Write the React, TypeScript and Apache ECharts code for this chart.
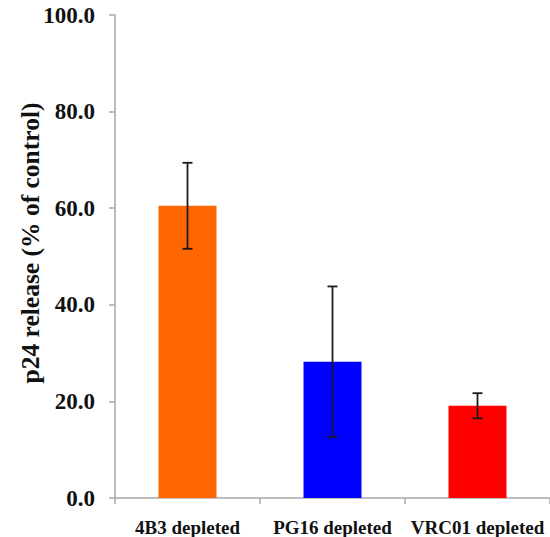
import React, { useEffect, useRef } from "react";
import * as echarts from "echarts";

const categories = ["4B3 depleted", "PG16 depleted", "VRC01 depleted"];
const values = [60.5, 28.2, 19.1];
const errors = [8.9, 15.6, 2.6];
const barColors = ["#ff6600", "#0000ff", "#ff0000"];
const yTicks = { min: 0, max: 100, interval: 20 };
const yTitle = "p24 release (% of control)";

export default function App() {
  const ref = useRef<HTMLDivElement>(null);
  useEffect(() => {
    document.body.style.margin = "0";
    const chart = echarts.init(ref.current!, undefined, { renderer: "svg" });
    const font = "Liberation Serif";
    const axisColor = "#a8a8a8";
    chart.setOption({
      animation: false,
      grid: { left: 115, right: 0, top: 15, bottom: 39 },
      graphic: [
        {
          type: "text",
          x: 30,
          y: 243,
          rotation: Math.PI / 2,
          style: {
            text: yTitle,
            fill: "#111",
            fontFamily: font,
            fontWeight: "bold",
            fontSize: 25.5,
            align: "center",
            verticalAlign: "middle",
          },
        },
      ],
      xAxis: {
        type: "category",
        data: categories,
        axisLine: { lineStyle: { color: axisColor, width: 1.5 } },
        axisTick: { show: true, length: 6, lineStyle: { color: axisColor, width: 1.5 } },
        axisLabel: {
          margin: 20,
          color: "#111",
          fontFamily: font,
          fontWeight: "bold",
          fontSize: 19,
          interval: 0,
        },
      },
      yAxis: {
        type: "value",
        min: yTicks.min,
        max: yTicks.max,
        interval: yTicks.interval,
        axisLine: { show: true, lineStyle: { color: axisColor, width: 1.5 } },
        axisTick: { show: true, length: 6, lineStyle: { color: axisColor, width: 1.5 } },
        splitLine: { show: false },
        axisLabel: {
          margin: 20,
          color: "#111",
          fontFamily: font,
          fontWeight: "bold",
          fontSize: 23,
          formatter: (v: number) => v.toFixed(1),
        },
      },
      series: [
        {
          type: "bar",
          barWidth: 58,
          data: values.map((v, i) => ({ value: v, itemStyle: { color: barColors[i] } })),
        },
        {
          type: "custom",
          data: values.map((v, i) => [i, v - errors[i], v + errors[i]]),
          renderItem: (params: any, api: any) => {
            const x = api.value(0);
            const lo = api.coord([x, api.value(1)]);
            const hi = api.coord([x, api.value(2)]);
            const cap = 5;
            const style = { stroke: "#1a1a1a", lineWidth: 1.8 };
            return {
              type: "group",
              children: [
                { type: "line", shape: { x1: lo[0], y1: lo[1], x2: hi[0], y2: hi[1] }, style },
                { type: "line", shape: { x1: hi[0] - cap, y1: hi[1], x2: hi[0] + cap, y2: hi[1] }, style },
                { type: "line", shape: { x1: lo[0] - cap, y1: lo[1], x2: lo[0] + cap, y2: lo[1] }, style },
              ],
            };
          },
          z: 10,
        },
      ],
    });
    return () => chart.dispose();
  }, []);
  return <div ref={ref} style={{ width: 550, height: 537 }} />;
}
